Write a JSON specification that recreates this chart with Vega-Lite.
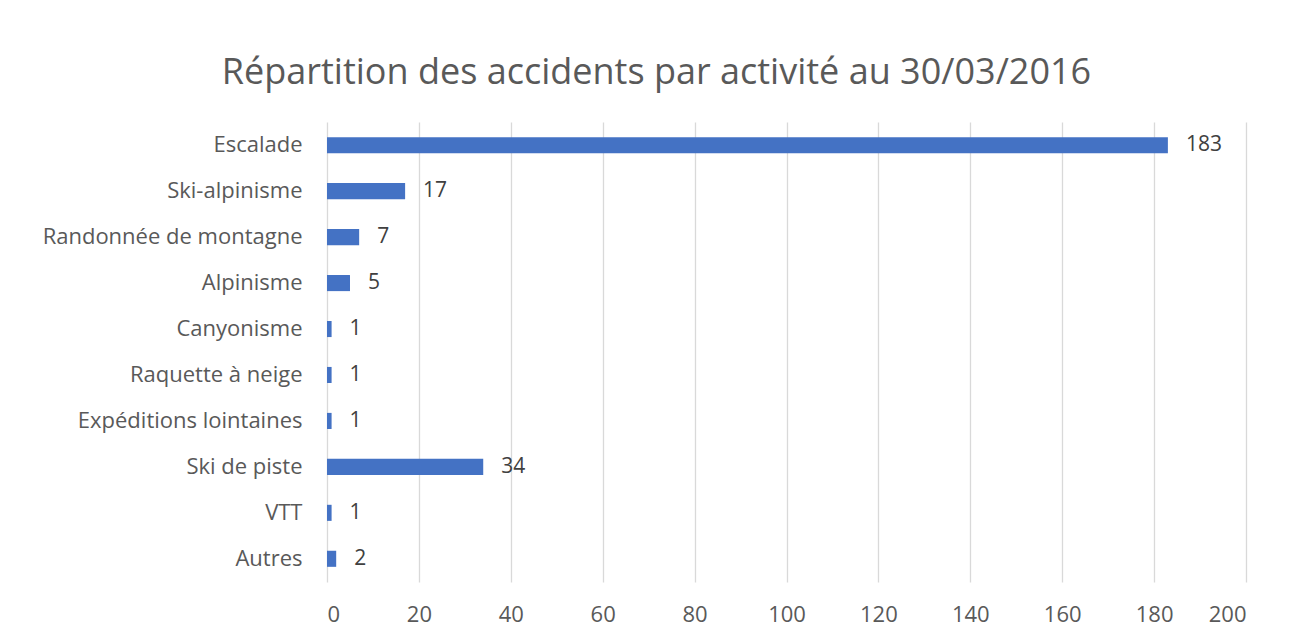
{
  "$schema": "https://vega.github.io/schema/vega-lite/v6.json",
  "width": 919,
  "height": 460,
  "autosize": {"type": "none"},
  "padding": {"left": 327, "top": 122, "right": 43, "bottom": 62},
  "background": "white",
  "title": {
    "text": "Répartition des accidents par activité au 30/03/2016",
    "font": "Open Sans",
    "fontSize": 36,
    "fontWeight": "normal",
    "color": "#595959",
    "anchor": "middle",
    "dx": -130,
    "offset": 30
  },
  "data": {
    "values": [
      {"activite": "Escalade", "accidents": 183},
      {"activite": "Ski-alpinisme", "accidents": 17},
      {"activite": "Randonnée de montagne", "accidents": 7},
      {"activite": "Alpinisme", "accidents": 5},
      {"activite": "Canyonisme", "accidents": 1},
      {"activite": "Raquette à neige", "accidents": 1},
      {"activite": "Expéditions lointaines", "accidents": 1},
      {"activite": "Ski de piste", "accidents": 34},
      {"activite": "VTT", "accidents": 1},
      {"activite": "Autres", "accidents": 2}
    ]
  },
  "encoding": {
    "y": {
      "field": "activite",
      "type": "nominal",
      "sort": null,
      "scale": {"paddingInner": 0.65, "paddingOuter": 0.33},
      "axis": {
        "title": null,
        "domain": false,
        "ticks": false,
        "labelPadding": 25,
        "labelFont": "Open Sans",
        "labelFontSize": 22,
        "labelColor": "#595959",
        "labelLimit": 400
      }
    },
    "x": {
      "field": "accidents",
      "type": "quantitative",
      "scale": {"domain": [0, 200], "nice": false},
      "axis": {
        "title": null,
        "values": [0, 20, 40, 60, 80, 100, 120, 140, 160, 180, 200],
        "domain": false,
        "ticks": false,
        "grid": true,
        "gridColor": "#d9d9d9",
        "gridWidth": 1.3,
        "labelPadding": 22,
        "labelFont": "Open Sans",
        "labelFontSize": 22,
        "labelColor": "#595959"
      }
    }
  },
  "layer": [
    {"mark": {"type": "bar", "color": "#4472C4"}},
    {
      "mark": {
        "type": "text",
        "align": "left",
        "baseline": "middle",
        "dx": 18,
        "font": "Open Sans",
        "fontSize": 21,
        "color": "#404040"
      },
      "encoding": {"text": {"field": "accidents", "type": "quantitative"}}
    }
  ],
  "config": {"view": {"stroke": null}}
}
